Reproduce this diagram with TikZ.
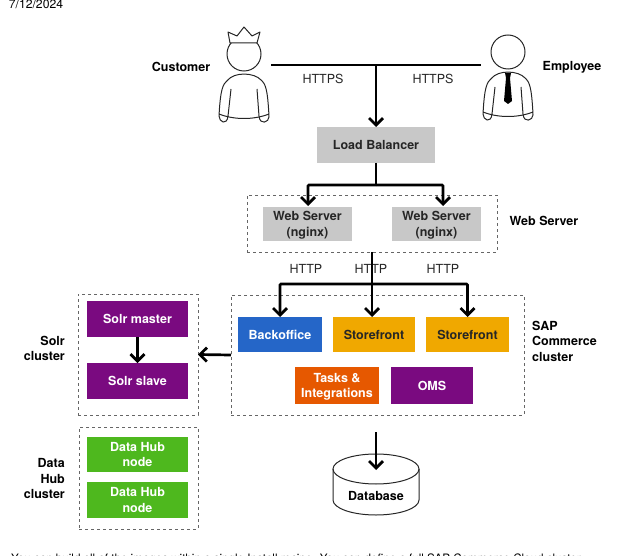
\documentclass[tikz,border=0pt]{standalone}
\usepackage{fontspec}
\setmainfont{TeX Gyre Heros}
\usepackage{tikz}
\usetikzlibrary{arrows.meta, positioning}
\definecolor{graycol}{RGB}{200,200,200}
\definecolor{bluecol}{RGB}{37,102,200}
\definecolor{ambercol}{RGB}{240,168,0}
\definecolor{rustcol}{RGB}{230,88,0}
\definecolor{plumcol}{RGB}{122,10,128}
\definecolor{leafcol}{RGB}{78,184,30}

\begin{document}
\begin{tikzpicture}[
  x=1pt, y=-1pt,
  font=\fontsize{12.5}{15.5}\selectfont,
  box/.style={inner sep=0pt, outer sep=0pt, align=center, font=\fontsize{12.5}{15.5}\selectfont\bfseries},
  greybox/.style={box, fill=graycol, text=black!85},
  lightbox/.style={box, text=white},
  lowtext/.style={text depth=0pt},
  cluster/.style={draw=black!60, dashed, inner sep=0pt, outer sep=0pt},
  flow/.style={-{Straight Barb[length=7pt,width=14pt]}, line width=2.7pt},
  wire/.style={line width=2.7pt},
  title/.style={inner sep=0pt, font=\fontsize{12.5}{15.5}\selectfont\bfseries},
  proto/.style={text=black!85},
  person/.pic={
    \draw[black!85, line width=1pt] (0,0) circle (17);
    \draw[black!85, line width=1pt, rounded corners=1pt]
      (-25,62) .. controls (-24,45) and (-23,32) .. (-17,27)
      .. controls (-10,18) and (10,18) .. (18,27)
      .. controls (23,32) and (24,45) .. (25,62)
      .. controls (25,68) and (16,72) .. (15,62)
      (-25,62) .. controls (-25,68) and (-17,72) .. (-16,62)
      (-13,35) -- (-16,62)
      (13,35) -- (15,62)
      (-25,60) .. controls (-10,66) and (10,66) .. (25,60);
  }
]
  \clip (0,0) rectangle (626,556);

  \node[anchor=base, inner sep=0pt] (date) at (36,9) {\fontsize{12.2}{14}\selectfont 7/12/2024};
  \node[anchor=north west, inner sep=0pt] (pagetext) at (11,554)
    {\fontsize{11.6}{14}\selectfont You can build all of the images within a single Install recipe. You can define a full SAP Commerce Cloud cluster};

  % people at the top
  \pic at (244,54) {person};
  \draw[black!85, fill=white, line width=1pt, line join=round]
    (230,43) -- (228,32) -- (237,36) -- (244,27) -- (252,36) -- (260,32) -- (257,43) -- cycle;
  \pic at (508,52) {person};
  \fill[black] (505,73) -- (511,73) -- (510,78) -- (512,101) -- (508,104) -- (504,101) -- (506,78) -- cycle;

  \node[title] (customer) at (181,67) {Customer};
  \node[title] (employee) at (572,67) {Employee};
  \node[proto] (https1) at (323,79) {HTTPS};
  \node[proto] (https2) at (433,79) {HTTPS};

  \node[greybox, minimum width=118pt, minimum height=36pt] (balancer) at (376,145) {Load Balancer};

  \node[cluster, minimum width=250pt, minimum height=57pt] (webcluster) at (372,223.5) {};
  \node[greybox, lowtext, minimum width=89pt, minimum height=34pt] (web1) at (307.5,224) {Web Server\\(nginx)};
  \node[greybox, lowtext, minimum width=89pt, minimum height=34pt] (web2) at (436.5,224) {Web Server\\(nginx)};
  \node[title] (webtitle) at (544,221) {Web Server};

  \node[proto] (http1) at (306,269) {HTTP};
  \node[proto] (http2) at (371,269) {HTTP};
  \node[proto] (http3) at (443,269) {HTTP};

  \node[cluster, minimum width=293pt, minimum height=120pt] (sapcluster) at (377.5,355) {};
  \node[lightbox, fill=bluecol, minimum width=84pt, minimum height=35pt] (backoffice) at (280,334.5) {Backoffice};
  \node[box, fill=ambercol, text=black!85, minimum width=82pt, minimum height=35pt] (store1) at (374,334.5) {Storefront};
  \node[box, fill=ambercol, text=black!85, minimum width=83pt, minimum height=35pt] (store2) at (467.5,334.5) {Storefront};
  \node[lightbox, lowtext, fill=rustcol, minimum width=84pt, minimum height=37pt] (tasks) at (337,385.5) {Tasks \&\\Integrations};
  \node[lightbox, fill=plumcol, minimum width=82pt, minimum height=37pt] (oms) at (432,385.5) {OMS};
  \node[title, align=left, anchor=west] (saptitle) at (532,341) {SAP\\Commerce\\cluster};

  \node[cluster, minimum width=120pt, minimum height=121pt] (solrcluster) at (138,354.5) {};
  \node[lightbox, fill=plumcol, minimum width=101pt, minimum height=36pt] (solrmaster) at (137.5,319) {Solr master};
  \node[lightbox, fill=plumcol, minimum width=101pt, minimum height=36pt] (solrslave) at (137.5,381) {Solr slave};
  \node[title, align=right, anchor=east] (solrtitle) at (65,348.5) {Solr\\cluster};

  \node[cluster, minimum width=119pt, minimum height=102pt] (hubcluster) at (138.5,478) {};
  \node[lightbox, fill=leafcol, minimum width=101pt, minimum height=35pt] (hub1) at (137.5,454.5) {Data Hub\\node};
  \node[lightbox, fill=leafcol, minimum width=101pt, minimum height=36pt] (hub2) at (137.5,500) {Data Hub\\node};
  \node[title, align=right, anchor=east] (hubtitle) at (65,478.5) {Data\\Hub\\cluster};

  % database drum
  \draw[black!85, line width=1pt] (376,469) ellipse (43 and 15);
  \draw[black!85, line width=1pt] (333,469) -- (333,500)
    .. controls (333,508.3) and (352.3,515) .. (376,515)
    .. controls (399.7,515) and (419,508.3) .. (419,500) -- (419,469);
  \node[title] (database) at (376,496) {Database};

  \coordinate (customerend) at (271,65);
  \coordinate (employeeend) at (481,65);
  \coordinate (httpsjoin) at (376,65);
  \coordinate (webjoin) at (376,185);
  \coordinate (web1in) at (308,206);
  \coordinate (web2in) at (443,206);
  \coordinate (httpjoin) at (372,284);
  \coordinate (dbfrom) at (376,432);
  \coordinate (dbto) at (376,470);

  \draw[wire] (customerend) -- (employeeend);
  \draw[flow] (httpsjoin) -- (balancer.north);
  \draw[wire] (balancer.south) -- (webjoin);
  \draw[flow, rounded corners=1pt] (webjoin) -| (web1in);
  \draw[flow, rounded corners=1pt] (webjoin) -| (web2in);
  \draw[flow] (webcluster.south) -- (store1.north -| webcluster.south);
  \draw[flow, rounded corners=1pt] (httpjoin) -| (backoffice.north);
  \draw[flow, rounded corners=1pt] (httpjoin) -| (store2.north);
  \draw[flow] (sapcluster.west) -- (solrcluster.east);
  \draw[flow] (solrmaster.south) -- (solrslave.north);
  \draw[flow] (dbfrom) -- (dbto);
\end{tikzpicture}
\end{document}
